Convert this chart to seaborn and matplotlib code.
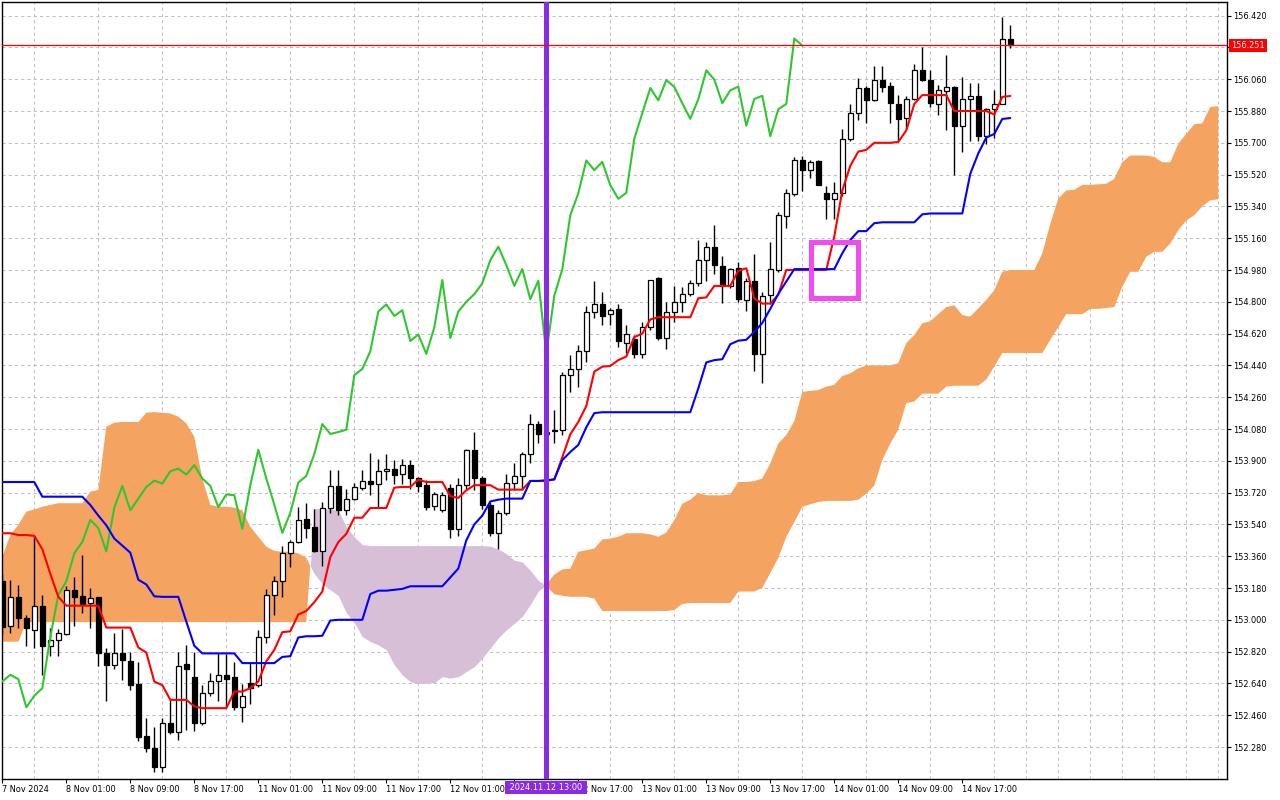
import numpy as np
import pandas as pd
import matplotlib
matplotlib.use("Agg")
import matplotlib.pyplot as plt
import matplotlib.transforms as mtransforms
from matplotlib.patches import Rectangle
import seaborn as sns

# ---------------- data (USDJPY H1, 7 Nov 17:00 -> 14 Nov 23:00) ----------------
opens = [
    153.22, 152.966, 153.129, 153.01, 152.943, 153.08, 152.853, 152.883, 152.921, 153.17,
    153.133, 153.095, 153.127, 152.81, 152.742, 152.814, 152.768, 152.638, 152.343, 152.272,
    152.168, 152.414, 152.367, 152.748, 152.675, 152.414, 152.585, 152.651, 152.689, 152.675,
    152.505, 152.642, 152.632, 152.903, 153.142, 153.218, 153.377, 153.44, 153.568, 153.523,
    153.389, 153.635, 153.758, 153.62, 153.686, 153.748, 153.788, 153.766, 153.841, 153.856,
    153.823, 153.876, 153.80, 153.762, 153.644, 153.624, 153.748, 153.515, 153.762, 153.962,
    153.80, 153.652, 153.492, 153.606, 153.777, 153.815, 153.938, 154.108, 154.052, 154.066,
    154.076, 154.385, 154.42, 154.52, 154.745, 154.785, 154.733, 154.757, 154.568, 154.588,
    154.505, 154.655, 154.932, 154.597, 154.745, 154.80, 154.843, 154.905, 155.036, 155.112,
    155.004, 154.89, 154.99, 154.813, 154.92, 154.507, 154.838, 154.98, 155.285, 155.408,
    155.60, 155.545, 155.596, 155.417, 155.383, 155.417, 155.723, 155.868, 156.01, 155.943,
    156.055, 156.02, 155.92, 155.84, 155.946, 156.11, 156.055, 155.922, 155.995, 156.018,
    155.794, 155.948, 155.966, 155.737, 155.89, 155.92, 156.29]
highs = [
    153.26, 153.227, 153.197, 153.028, 153.474, 153.142, 152.952, 152.95, 153.19, 153.24,
    153.368, 153.18, 153.127, 152.843, 152.925, 152.95, 152.817, 152.76, 152.443, 152.395,
    152.443, 152.547, 152.817, 152.86, 152.817, 152.632, 152.698, 152.814, 152.805, 152.76,
    152.638, 152.76, 152.945, 153.174, 153.246, 153.42, 153.454, 153.639, 153.663, 153.629,
    153.667, 153.85, 153.85, 153.743, 153.775, 153.847, 153.947, 153.908, 153.94, 153.904,
    153.908, 153.904, 153.809, 153.79, 153.724, 153.724, 153.767, 153.804, 153.968, 154.061,
    153.815, 153.667, 153.62, 153.828, 153.885, 153.952, 154.166, 154.124, 154.11, 154.19,
    154.40, 154.50, 154.555, 154.774, 154.92, 154.855, 154.767, 154.785, 154.667, 154.61,
    154.686, 154.923, 154.94, 154.80, 154.89, 154.884, 154.923, 155.15, 155.137, 155.235,
    155.06, 154.994, 155.025, 154.935, 155.07, 154.858, 155.14, 155.31, 155.436, 155.62,
    155.627, 155.60, 155.60, 155.455, 155.477, 155.777, 155.92, 156.064, 156.02, 156.133,
    156.133, 156.045, 155.97, 155.965, 156.148, 156.24, 156.11, 156.028, 156.195, 156.02,
    156.073, 156.037, 156.037, 155.895, 156.0, 156.41, 156.364]
lows = [
    152.92, 152.924, 152.956, 152.852, 152.843, 152.685, 152.795, 152.795, 152.916, 152.966,
    153.038, 152.952, 152.738, 152.543, 152.72, 152.66, 152.604, 152.316, 152.25, 152.136,
    152.136, 152.352, 152.32, 152.376, 152.37, 152.405, 152.566, 152.538, 152.509, 152.487,
    152.424, 152.524, 152.619, 152.87, 153.028, 153.129, 153.298, 153.434, 153.464, 153.383,
    153.307, 153.606, 153.591, 153.591, 153.677, 153.733, 153.705, 153.635, 153.79, 153.771,
    153.771, 153.743, 153.724, 153.62, 153.62, 153.61, 153.464, 153.472, 153.743, 153.733,
    153.63, 153.472, 153.402, 153.591, 153.733, 153.733, 153.885, 154.0, 154.0, 154.0,
    154.048, 154.287, 154.32, 154.457, 154.71, 154.667, 154.667, 154.543, 154.51, 154.48,
    154.48, 154.64, 154.586, 154.533, 154.686, 154.743, 154.834, 154.887, 154.92, 154.96,
    154.794, 154.88, 154.80, 154.75, 154.41, 154.34, 154.79, 154.97, 155.22, 155.40,
    155.427, 155.50, 155.46, 155.266, 155.266, 155.40, 155.708, 155.83, 155.81, 155.934,
    155.99, 155.81, 155.708, 155.78, 155.94, 156.05, 155.90, 155.856, 155.772, 155.516,
    155.65, 155.71, 155.71, 155.695, 155.73, 155.92, 156.234]
closes = [
    152.96, 153.129, 153.01, 152.956, 153.08, 152.853, 152.887, 152.925, 153.17, 153.127,
    153.09, 153.123, 152.81, 152.742, 152.814, 152.77, 152.632, 152.339, 152.276, 152.168,
    152.418, 152.367, 152.74, 152.72, 152.414, 152.585, 152.651, 152.689, 152.664, 152.505,
    152.57, 152.613, 152.903, 153.142, 153.218, 153.377, 153.44, 153.566, 153.519, 153.387,
    153.635, 153.758, 153.62, 153.686, 153.752, 153.788, 153.771, 153.841, 153.856, 153.822,
    153.876, 153.80, 153.758, 153.638, 153.71, 153.705, 153.515, 153.762, 153.962, 153.80,
    153.652, 153.492, 153.606, 153.777, 153.815, 153.938, 154.108, 154.052, 154.063, 154.076,
    154.385, 154.42, 154.52, 154.745, 154.785, 154.72, 154.752, 154.578, 154.615, 154.505,
    154.655, 154.923, 154.595, 154.745, 154.80, 154.843, 154.905, 155.036, 155.112, 155.008,
    154.89, 154.985, 154.815, 154.92, 154.507, 154.835, 154.984, 155.29, 155.414, 155.60,
    155.545, 155.592, 155.46, 155.383, 155.417, 155.723, 155.868, 156.01, 155.94, 156.055,
    156.017, 155.924, 155.836, 155.946, 156.11, 156.058, 155.924, 155.997, 156.018, 155.797,
    155.948, 155.966, 155.737, 155.89, 155.92, 156.29, 156.251]

tenkan = [
    153.49, 153.49, 153.48, 153.48, 153.475, 153.40, 153.26, 153.13, 153.08, 153.08,
    153.08, 153.08, 153.08, 152.956, 152.956, 152.956, 152.956, 152.843, 152.815, 152.65,
    152.63, 152.547, 152.547, 152.547, 152.51, 152.50, 152.50, 152.50, 152.50, 152.594,
    152.594, 152.613, 152.651, 152.765, 152.83, 152.93, 152.935, 153.03, 153.05, 153.10,
    153.16, 153.355, 153.44, 153.487, 153.578, 153.578, 153.633, 153.633, 153.633, 153.748,
    153.752, 153.752, 153.794, 153.78, 153.78, 153.78, 153.70, 153.69, 153.733, 153.762,
    153.762, 153.762, 153.737, 153.737, 153.737, 153.737, 153.786, 153.786, 153.786, 153.795,
    153.92, 154.05, 154.12, 154.21, 154.405, 154.433, 154.437, 154.47, 154.49, 154.60,
    154.62, 154.70, 154.713, 154.713, 154.713, 154.713, 154.713, 154.82, 154.825, 154.89,
    154.89, 154.89, 154.976, 154.99, 154.82, 154.79, 154.79, 154.84, 154.98, 154.98,
    154.98, 154.98, 154.98, 154.98, 155.17, 155.43, 155.57, 155.65, 155.66, 155.70,
    155.70, 155.70, 155.705, 155.77, 155.92, 155.97, 155.97, 155.97, 155.97, 155.88,
    155.88, 155.88, 155.88, 155.88, 155.86, 155.96, 155.965]
kijun = [
    153.78, 153.78, 153.78, 153.78, 153.78, 153.697, 153.697, 153.697, 153.697, 153.697,
    153.697, 153.65, 153.59, 153.535, 153.46, 153.42, 153.38, 153.227, 153.20, 153.133,
    153.13, 153.13, 153.13, 152.99, 152.853, 152.81, 152.81, 152.81, 152.81, 152.81,
    152.755, 152.755, 152.755, 152.755, 152.755, 152.79, 152.794, 152.90, 152.907, 152.907,
    152.91, 152.996, 153.0, 153.0, 153.0, 153.0, 153.146, 153.165, 153.165, 153.17,
    153.175, 153.19, 153.19, 153.19, 153.19, 153.19, 153.24, 153.29, 153.45, 153.54,
    153.59, 153.67, 153.68, 153.686, 153.686, 153.686, 153.786, 153.786, 153.79, 153.795,
    153.904, 153.95, 153.99, 154.09, 154.17, 154.175, 154.175, 154.175, 154.175, 154.175,
    154.175, 154.175, 154.175, 154.175, 154.175, 154.175, 154.175, 154.31, 154.457, 154.47,
    154.475, 154.56, 154.58, 154.585, 154.63, 154.68, 154.76, 154.845, 154.915, 154.985,
    154.985, 154.985, 154.985, 154.985, 154.985, 155.075, 155.15, 155.20, 155.20, 155.245,
    155.25, 155.25, 155.25, 155.25, 155.25, 155.295, 155.30, 155.30, 155.30, 155.30,
    155.30, 155.525, 155.64, 155.73, 155.75, 155.835, 155.84]

span_a = [
    153.357, 153.48, 153.537, 153.612, 153.625, 153.64, 153.65, 153.66, 153.66, 153.66,
    153.66, 153.725, 153.735, 154.093, 154.116, 154.12, 154.12, 154.12, 154.172, 154.176,
    154.172, 154.168, 154.15, 154.112, 154.036, 153.80, 153.65, 153.64, 153.64, 153.635,
    153.62, 153.527, 153.47, 153.414, 153.39, 153.385, 153.385, 153.376, 153.35, 153.26,
    153.204, 153.17, 153.137, 153.04, 152.985, 152.905, 152.877, 152.858, 152.83, 152.745,
    152.688, 152.65, 152.64, 152.64, 152.644, 152.678, 152.67, 152.678, 152.707, 152.735,
    152.783, 152.84, 152.897, 152.943, 152.98, 153.02, 153.086, 153.162, 153.20, 153.256,
    153.285, 153.29, 153.385, 153.394, 153.403, 153.455, 153.46, 153.47, 153.49, 153.49,
    153.49, 153.484, 153.47, 153.494, 153.563, 153.657, 153.68, 153.718, 153.705, 153.705,
    153.705, 153.71, 153.78, 153.78, 153.785, 153.80, 153.885, 153.998, 154.046, 154.124,
    154.29, 154.296, 154.30, 154.32, 154.33, 154.38, 154.395, 154.423, 154.44, 154.44,
    154.44, 154.44, 154.453, 154.566, 154.612, 154.678, 154.69, 154.73, 154.77, 154.78,
    154.725, 154.716, 154.763, 154.81, 154.866, 154.97, 154.98, 154.98, 154.98, 154.98,
    155.074, 155.24, 155.385, 155.43, 155.434, 155.462, 155.462, 155.465, 155.468, 155.496,
    155.59, 155.628, 155.628, 155.628, 155.62, 155.59, 155.59, 155.694, 155.75, 155.805,
    155.81, 155.903, 155.907]
span_b = [
    152.876, 152.876, 152.876, 152.987, 152.987, 152.987, 152.987, 152.987, 152.987, 152.987,
    152.987, 152.987, 152.987, 152.987, 152.987, 152.987, 152.987, 152.987, 152.987, 152.987,
    152.987, 152.987, 152.987, 152.987, 152.987, 152.987, 152.987, 152.987, 152.987, 152.987,
    152.987, 152.987, 152.987, 152.987, 152.987, 152.987, 152.987, 152.987, 152.987, 153.63,
    153.63, 153.627, 153.62, 153.527, 153.47, 153.426, 153.42, 153.42, 153.42, 153.42,
    153.42, 153.42, 153.42, 153.42, 153.42, 153.42, 153.42, 153.42, 153.42, 153.42,
    153.42, 153.417, 153.40, 153.375, 153.337, 153.327, 153.28, 153.223, 153.19, 153.145,
    153.136, 153.13, 153.13, 153.13, 153.12, 153.05, 153.05, 153.05, 153.05, 153.05,
    153.05, 153.05, 153.05, 153.05, 153.056, 153.09, 153.095, 153.095, 153.095, 153.095,
    153.095, 153.095, 153.16, 153.16, 153.16, 153.18, 153.265, 153.35, 153.47, 153.553,
    153.64, 153.654, 153.667, 153.673, 153.673, 153.673, 153.673, 153.68, 153.714, 153.76,
    153.904, 153.998, 154.076, 154.226, 154.236, 154.28, 154.28, 154.28, 154.32, 154.325,
    154.325, 154.325, 154.325, 154.36, 154.434, 154.51, 154.51, 154.51, 154.51, 154.51,
    154.51, 154.585, 154.656, 154.73, 154.73, 154.73, 154.76, 154.76, 154.765, 154.77,
    154.885, 154.97, 154.97, 155.055, 155.083, 155.083, 155.13, 155.205, 155.26, 155.29,
    155.34, 155.375, 155.38]

chikou_shift = 26
time_label_bars = [0, 8, 16, 24, 32, 40, 48, 56, 64, 72, 80, 88, 96, 104, 112, 120]
time_labels = ["7 Nov 2024", "8 Nov 01:00", "8 Nov 09:00", "8 Nov 17:00",
               "11 Nov 01:00", "11 Nov 09:00", "11 Nov 17:00", "12 Nov 01:00",
               "", "12 Nov 17:00", "13 Nov 01:00", "13 Nov 09:00",
               "13 Nov 17:00", "14 Nov 01:00", "14 Nov 09:00", "14 Nov 17:00"]
price_ticks = [152.28, 152.46, 152.64, 152.82, 153.00, 153.18, 153.36, 153.54,
               153.72, 153.90, 154.08, 154.26, 154.44, 154.62, 154.80, 154.98,
               155.16, 155.34, 155.52, 155.70, 155.88, 156.06, 156.24, 156.42]
hidden_price_labels = [156.24]
last_price = 156.251
marker_bar = 68
marker_label = "2024.11.12 13:00"
box_bars = [101.06, 107.0]
box_prices = [154.82, 155.14]

# ---------------- style ----------------
sns.set_theme(style="white")
plt.rcParams['font.family'] = ['DejaVu Sans']

fig = plt.figure(figsize=(12.8, 8), dpi=100)
fig.patch.set_facecolor("white")
ax = fig.add_axes([2 / 1280, 21 / 800, 1225 / 1280, 777 / 800])
ax.set_facecolor("white")

o = np.array(opens); h = np.array(highs); l = np.array(lows); c = np.array(closes)
n = len(o)
bars = np.arange(n)

# cloud
a = np.array(span_a); b = np.array(span_b)
cx = np.arange(len(a))
ax.fill_between(cx, a, b, where=a >= b, interpolate=True, color="#F4A460", lw=0, zorder=1)
ax.fill_between(cx, a, b, where=a < b, interpolate=True, color="#D8BFD8", lw=0, zorder=1)

# candles
up = c >= o
ax.vlines(bars, l, h, color="black", lw=1.0, zorder=3)
body_bot = np.minimum(o, c)
body_h = np.maximum(np.abs(c - o), 0.003)
ax.bar(bars[up], body_h[up], bottom=body_bot[up], width=0.62, color="white",
       edgecolor="black", linewidth=0.9, zorder=3.5)
ax.bar(bars[~up], body_h[~up], bottom=body_bot[~up], width=0.62, color="black",
       edgecolor="black", linewidth=0.9, zorder=3.5)

# ichimoku lines
lines_df = pd.DataFrame({"bar": bars, "tenkan": tenkan, "kijun": kijun})
chikou_df = pd.DataFrame({"bar": bars[:n - chikou_shift], "chikou": c[chikou_shift:]})
sns.lineplot(data=chikou_df, x="bar", y="chikou", color="#2EC82E", lw=1.5, ax=ax, zorder=4)
sns.lineplot(data=lines_df, x="bar", y="tenkan", color="#FF0000", lw=1.5, ax=ax, zorder=4.2)
sns.lineplot(data=lines_df, x="bar", y="kijun", color="#0000FF", lw=1.5, ax=ax, zorder=4.3)

# objects
ax.axvline(marker_bar, color="#8A2BE2", lw=3.6, zorder=6)
ax.axhline(last_price, color="#FF0000", lw=0.9, zorder=6)
ax.add_patch(Rectangle((box_bars[0], box_prices[0]), box_bars[1] - box_bars[0],
                       box_prices[1] - box_prices[0], fill=False,
                       edgecolor="#F44AF4", lw=3.6, zorder=6))

# axes limits
ax.set_xlim(-0.04, 153.09)
ax.set_ylim(152.099, 156.497)

# grid
ax.set_axisbelow(True)
ax.set_xticks(np.arange(0, len(a) + 1, 4), minor=True)
ax.set_xticks(time_label_bars)
ax.set_xticklabels(time_labels, ha="left")
ax.set_yticks(price_ticks)
ax.set_yticklabels(["" if p in hidden_price_labels else f"{p:.3f}" for p in price_ticks])
grid_kw = dict(color="#C4BEC4", lw=0.75, ls=(0, (3, 3)))
ax.xaxis.grid(True, which="minor", **grid_kw)
ax.xaxis.grid(False, which="major")
ax.yaxis.grid(True, which="major", **grid_kw)

ax.yaxis.tick_right()
ax.tick_params(axis="y", which="major", right=True, left=False, length=3,
               width=0.8, direction="out", labelsize=5.9, pad=1.5, colors="black")
ax.tick_params(axis="x", which="major", bottom=True, length=3, width=0.8,
               direction="out", labelsize=5.9, pad=1.5, colors="black")
ax.tick_params(axis="x", which="minor", length=0)
ax.set_xlabel("")
ax.set_ylabel("")

for s in ax.spines.values():
    s.set_visible(True)
    s.set_color("black")
    s.set_linewidth(1.0)

# price tag on the right axis
ptrans = mtransforms.offset_copy(
    mtransforms.blended_transform_factory(ax.transAxes, ax.transData), fig=fig, x=4, y=0, units="dots")
ax.text(1.0, last_price, f"{last_price:.3f}", transform=ptrans, ha="left", va="center",
        color="white", fontsize=5.9, clip_on=False, zorder=10,
        bbox=dict(boxstyle="square,pad=0.25", fc="#FF0000", ec="none"))

# highlighted time label
ttrans = mtransforms.offset_copy(
    mtransforms.blended_transform_factory(ax.transData, ax.transAxes), fig=fig, x=0, y=-4, units="dots")
ax.text(marker_bar, 0.0, " " + marker_label + " ", transform=ttrans, ha="center", va="top",
        color="white", fontsize=5.9, clip_on=False, zorder=10,
        bbox=dict(boxstyle="square,pad=0.25", fc="#8A2BE2", ec="none"))

fig.savefig("out.png", dpi=100, facecolor="white")
